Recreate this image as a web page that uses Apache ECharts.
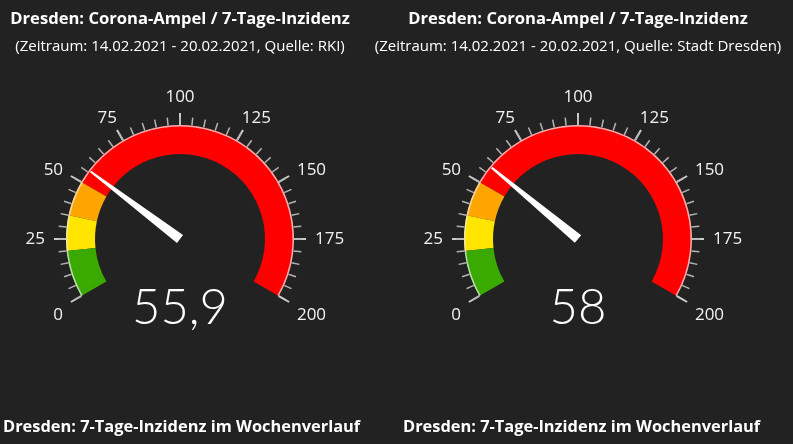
<!DOCTYPE html>
<html>
<head>
<meta charset="utf-8">
<script src="https://cdn.jsdelivr.net/npm/echarts@6/dist/echarts.min.js"></script>
<style>
html,body{margin:0;padding:0;background:#222222;}
#chart{width:793px;height:444px;}
</style>
</head>
<body>
<div id="chart"></div>
<script>
const gaugeTitles = ['Dresden: Corona-Ampel / 7-Tage-Inzidenz', 'Dresden: Corona-Ampel / 7-Tage-Inzidenz'];
const gaugeSubtitles = ['(Zeitraum: 14.02.2021 - 20.02.2021, Quelle: RKI)', '(Zeitraum: 14.02.2021 - 20.02.2021, Quelle: Stadt Dresden)'];
const incidenceValues = [55.9, 58];
const bottomTitles = ['Dresden: 7-Tage-Inzidenz im Wochenverlauf', 'Dresden: 7-Tage-Inzidenz im Wochenverlauf'];
const tickLabels = [0, 25, 50, 75, 100, 125, 150, 175, 200];
const bandLimits = [20, 35, 50, 200];
const bandColors = ['#3aaa00', '#ffe500', '#ffa500', '#ff0000'];

const gaugeMin = tickLabels[0];
const gaugeMax = tickLabels[tickLabels.length - 1];
const gaugeStep = tickLabels[1] - tickLabels[0];
const startAngle = 210, endAngle = -30;
const sweep = startAngle - endAngle;
const centers = [[180, 239], [578, 239]];
const outerR = 114, bandW = 29;
const labelColor = '#f2f2f2';
const labelFont = {fontSize: 17, fontFamily: 'Open Sans', color: labelColor};

const bandStops = bandLimits.map((l, i) => [(l - gaugeMin) / (gaugeMax - gaugeMin), bandColors[i]]);
const fmt = v => String(v).replace('.', ',');

// label style classes (placement tweaks only)
function labelClass(v) {
  const f = (v - gaugeMin) / (gaugeMax - gaugeMin);
  if (Math.abs(f - 0.25) < 1e-6 || Math.abs(f - 0.75) < 1e-6) return 'm';
  if (Math.abs(f - 0.375) < 1e-6) return 'tl';
  if (Math.abs(f - 0.625) < 1e-6) return 'tr';
  if (Math.abs(f - 0.5) < 1e-6) return 't';
  return null;
}
const richLabels = {
  m: Object.assign({lineHeight: 2}, labelFont),
  tl: Object.assign({lineHeight: 8, width: 15, align: 'left'}, labelFont),
  tr: Object.assign({lineHeight: 8, width: 23.5, align: 'right'}, labelFont),
  t: Object.assign({lineHeight: 14}, labelFont)
};

const title = [];
const series = [];
const polar = [];
const angleAxis = [];
const radiusAxis = [];

centers.forEach((c, i) => {
  title.push({
    text: gaugeTitles[i], left: c[0], top: 11, textAlign: 'center', padding: 0,
    textStyle: {color: '#ffffff', fontSize: 16.6, fontWeight: 'bold', fontFamily: 'Open Sans'}
  });
  title.push({
    text: gaugeSubtitles[i], left: c[0], top: 39, textAlign: 'center', padding: 0,
    textStyle: {color: '#ffffff', fontSize: 15, fontWeight: 'normal', fontFamily: 'Open Sans'}
  });
  title.push({
    text: bottomTitles[i], left: 3 + i * 400, top: 419, padding: 0,
    textStyle: {color: '#ffffff', fontSize: 16.4, fontWeight: 'bold', fontFamily: 'Open Sans'}
  });

  series.push({
    type: 'gauge', center: c, radius: outerR, startAngle, endAngle,
    min: gaugeMin, max: gaugeMax, animation: false,
    axisLine: {lineStyle: {width: bandW, color: bandStops}},
    splitLine: {show: false}, axisTick: {show: false}, axisLabel: {show: false},
    pointer: {show: false}, anchor: {show: false}, title: {show: false}, detail: {show: false},
    data: []
  });
  series.push({
    type: 'gauge', center: c, radius: outerR, startAngle, endAngle,
    min: gaugeMin, max: gaugeMax, splitNumber: (gaugeMax - gaugeMin) / gaugeStep, animation: false,
    axisLine: {lineStyle: {width: 1.5, color: [[1, 'rgba(235,235,235,0.75)']]}},
    splitLine: {length: 12, distance: -13.5, lineStyle: {color: '#cccccc', width: 2}},
    axisTick: {splitNumber: 5, length: 8, distance: -9.5, lineStyle: {color: '#b4b4b4', width: 1.5}},
    axisLabel: {show: false},
    pointer: {
      show: true, icon: 'path://M4,0 L6,0 L10,100 L0,100 Z',
      length: 112, width: 10, offsetCenter: [0, 0], itemStyle: {color: '#ffffff'}
    },
    anchor: {show: false}, title: {show: false},
    detail: {
      show: true, offsetCenter: [0, 69], color: '#ffffff', fontSize: 49,
      fontFamily: 'Lato', fontWeight: 300, formatter: fmt
    },
    data: [{value: incidenceValues[i]}]
  });

  polar.push({center: c, radius: outerR + 12});
  angleAxis.push({
    polarIndex: i, type: 'value', min: gaugeMin,
    max: gaugeMin + (gaugeMax - gaugeMin) * 360 / sweep, interval: gaugeStep,
    startAngle: startAngle, clockwise: true,
    axisLine: {show: false}, axisTick: {show: false}, splitLine: {show: false},
    axisLabel: Object.assign({
      margin: 9,
      formatter: v => {
        if (v > gaugeMax) return '';
        const k = labelClass(v);
        return k ? '{' + k + '|' + v + '}' : String(v);
      },
      rich: richLabels
    }, labelFont)
  });
  radiusAxis.push({polarIndex: i, type: 'value', min: 0, max: 1, show: false});
});

const chart = echarts.init(document.getElementById('chart'), null, {renderer: 'canvas'});
chart.setOption({
  backgroundColor: '#222222',
  animation: false,
  title, polar, angleAxis, radiusAxis, series
});
</script>
</body>
</html>
